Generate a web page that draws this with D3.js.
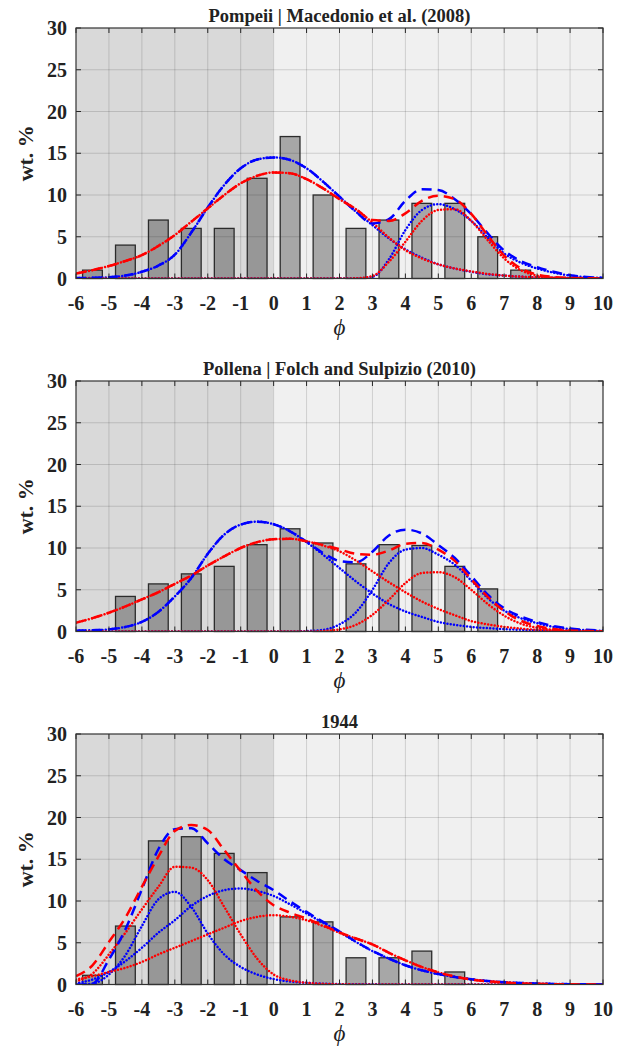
<!DOCTYPE html>
<html>
<head>
<meta charset="utf-8">
<script src="https://cdn.jsdelivr.net/npm/d3@7"></script>
<style>
  body { margin: 0; background: #fff; }
  text { font-family: "Liberation Serif", "Times New Roman", serif; fill: #222; }
</style>
</head>
<body>
<div id="viz"></div>
<script>
// grain size grid for the fitted curves (phi units)
const phi = [-6, -5.5, -5, -4.5, -4, -3.5, -3, -2.5, -2, -1.5, -1, -0.5, 0, 0.5, 1, 1.5, 2,
  2.5, 3, 3.5, 4, 4.5, 5, 5.5, 6, 6.5, 7, 7.5, 8, 8.5, 9, 9.5, 10];

const binCenters = [-5.5, -4.5, -3.5, -2.5, -1.5, -0.5, 0.5, 1.5, 2.5, 3.5, 4.5, 5.5, 6.5, 7.5];
const xTicks = [-6, -5, -4, -3, -2, -1, 0, 1, 2, 3, 4, 5, 6, 7, 8, 9, 10];
const yTicks = [0, 5, 10, 15, 20, 25, 30];

const titles = ['Pompeii | Macedonio et al. (2008)', 'Pollena | Folch and Sulpizio (2010)', '1944'];

// measured wt.% per bin
const pompeiiWt = [1, 4, 7, 6, 6, 12, 17, 10, 6, 7, 9, 9, 5, 1];
const pollenaWt = [null, 4.2, 5.7, 6.9, 7.8, 10.4, 12.3, 10.6, 8.1, 10.4, 10.3, 7.8, 5.1, null];
const wt1944 = [1.1, 7.0, 17.2, 17.7, 15.7, 13.4, 8.1, 7.5, 3.2, 3.2, 4.0, 1.5, null, null];

// Pompeii fits
const pompeiiBlue1 = [0.05, 0.08, 0.15, 0.35, 0.8, 1.55, 2.85, 5.5, 8.5, 11.2, 13.2, 14.25, 14.5, 14.2, 13.2, 11.6, 9.8,
  8.0, 6.4, 4.8, 3.5, 2.5, 1.7, 1.2, 0.8, 0.5, 0.35, 0.22, 0.14, 0.08, 0.05, 0.03, 0.02];
const pompeiiBlue2 = [0, 0, 0, 0, 0, 0, 0, 0, 0, 0, 0, 0, 0, 0, 0, 0, 0,
  0.02, 0.2, 2.3, 5.8, 8.2, 8.9, 8.3, 6.9, 4.9, 3.0, 1.9, 1.2, 0.7, 0.35, 0.15, 0.07];
const pompeiiBlueSum = [0.05, 0.08, 0.15, 0.35, 0.8, 1.55, 2.85, 5.5, 8.5, 11.2, 13.2, 14.25, 14.5, 14.2, 13.2, 11.6, 9.8,
  8.0, 6.6, 7.1, 9.3, 10.7, 10.6, 9.5, 7.7, 5.4, 3.35, 2.1, 1.35, 0.8, 0.4, 0.18, 0.09];
const pompeiiRed1 = [0.6, 1.0, 1.5, 2.1, 2.8, 3.9, 5.2, 6.8, 8.4, 10.0, 11.4, 12.3, 12.7, 12.6, 11.9, 10.8, 9.5,
  8.3, 6.7, 4.9, 3.4, 2.4, 1.7, 1.2, 0.85, 0.55, 0.35, 0.22, 0.13, 0.08, 0.04, 0.02, 0.01];
const pompeiiRed2 = [0, 0, 0, 0, 0, 0, 0, 0, 0, 0, 0, 0, 0, 0, 0, 0, 0,
  0.03, 0.3, 2.0, 4.4, 6.9, 8.2, 8.3, 6.9, 4.6, 2.4, 1.0, 0.35, 0.1, 0.03, 0.01, 0];
const pompeiiRedSum = [0.6, 1.0, 1.5, 2.1, 2.8, 3.9, 5.2, 6.8, 8.4, 10.0, 11.4, 12.3, 12.7, 12.6, 11.9, 10.8, 9.5,
  8.3, 7.0, 6.9, 7.8, 9.3, 9.9, 9.5, 7.75, 5.15, 2.75, 1.22, 0.48, 0.18, 0.07, 0.03, 0.01];

// Pollena fits
const pollenaBlue1 = [0.1, 0.15, 0.25, 0.55, 1.15, 2.35, 4.2, 6.4, 9.3, 11.6, 12.8, 13.15, 12.85, 12.0, 10.7, 9.2, 7.6,
  6.0, 4.55, 3.3, 2.4, 1.75, 1.15, 0.8, 0.55, 0.4, 0.28, 0.2, 0.14, 0.1, 0.07, 0.05, 0.03];
const pollenaBlue2 = [0, 0, 0, 0, 0, 0, 0, 0, 0, 0, 0, 0, 0, 0, 0.05, 0.2, 0.85,
  2.3, 5.0, 8.2, 9.8, 10.0, 9.2, 8.0, 6.1, 4.0, 2.5, 1.6, 1.0, 0.55, 0.28, 0.15, 0.08];
const pollenaBlueSum = [0.1, 0.15, 0.25, 0.55, 1.15, 2.35, 4.2, 6.4, 9.3, 11.6, 12.8, 13.15, 12.85, 12.0, 10.75, 9.4, 8.45,
  8.3, 9.55, 11.5, 12.2, 11.75, 10.35, 8.8, 6.65, 4.4, 2.78, 1.8, 1.14, 0.65, 0.35, 0.2, 0.11];
const pollenaRed1 = [1.05, 1.6, 2.25, 3.0, 3.85, 4.7, 5.7, 6.7, 7.9, 9.0, 10.0, 10.7, 11.05, 11.1, 10.8, 10.3, 9.6,
  8.5, 7.2, 5.9, 4.7, 3.6, 2.7, 1.95, 1.25, 0.85, 0.55, 0.35, 0.2, 0.1, 0.05, 0.03, 0.01];
const pollenaRed2 = [0, 0, 0, 0, 0, 0, 0, 0, 0, 0, 0, 0, 0, 0, 0, 0.05, 0.25,
  0.8, 2.0, 3.8, 5.8, 7.0, 7.1, 6.5, 5.0, 3.3, 1.9, 0.95, 0.45, 0.2, 0.08, 0.03, 0.01];
const pollenaRedSum = [1.05, 1.6, 2.25, 3.0, 3.85, 4.7, 5.7, 6.7, 7.9, 9.0, 10.0, 10.7, 11.05, 11.1, 10.8, 10.35, 9.85,
  9.3, 9.2, 9.7, 10.5, 10.6, 9.8, 8.45, 6.25, 4.15, 2.45, 1.3, 0.65, 0.3, 0.13, 0.06, 0.02];

// 1944 fits
const blue1944a = [0, 0.1, 1.2, 3.5, 7.0, 10.2, 11.1, 9.3, 6.1, 3.6, 2.1, 1.2, 0.65, 0.35, 0.2, 0.1, 0.05,
  0.03, 0.02, 0.01, 0, 0, 0, 0, 0, 0, 0, 0, 0, 0, 0, 0, 0];
const blue1944b = [0.15, 0.6, 1.5, 2.8, 4.4, 6.2, 7.7, 9.4, 10.6, 11.3, 11.5, 11.2, 10.6, 9.6, 8.5, 7.4, 6.3,
  5.1, 4.0, 3.1, 2.3, 1.7, 1.25, 0.9, 0.62, 0.42, 0.28, 0.18, 0.11, 0.07, 0.04, 0.02, 0.01];
const blue1944Sum = [0, 0.1, 3.0, 6.6, 11.4, 16.2, 18.6, 18.7, 16.9, 15.0, 13.7, 12.4, 11.3, 9.95, 8.7, 7.5, 6.35,
  5.13, 4.02, 3.11, 2.3, 1.7, 1.25, 0.9, 0.62, 0.42, 0.28, 0.18, 0.11, 0.07, 0.04, 0.02, 0.01];
const red1944a = [0.4, 1.3, 3.6, 6.2, 9.0, 11.7, 14.1, 14.0, 12.5, 9.3, 6.0, 3.1, 1.2, 0.5, 0.2, 0.08, 0.03,
  0.01, 0, 0, 0, 0, 0, 0, 0, 0, 0, 0, 0, 0, 0, 0, 0];
const red1944b = [0.6, 1.0, 1.5, 2.0, 2.7, 3.6, 4.4, 5.2, 6.0, 6.8, 7.6, 8.1, 8.3, 8.1, 7.7, 7.0, 6.2,
  5.5, 4.8, 3.8, 2.9, 2.1, 1.45, 0.95, 0.6, 0.38, 0.24, 0.14, 0.08, 0.04, 0.02, 0.01, 0];
const red1944Sum = [1.0, 2.3, 5.1, 8.0, 11.7, 15.3, 18.4, 19.1, 18.5, 16.1, 13.6, 11.2, 9.5, 8.6, 7.9, 7.08, 6.23,
  5.51, 4.8, 3.8, 2.9, 2.1, 1.45, 0.95, 0.6, 0.38, 0.24, 0.14, 0.08, 0.04, 0.02, 0.01, 0];

const panels = [
  { title: titles[0], top: 28, wt: pompeiiWt,
    blue: [pompeiiBlue1, pompeiiBlue2, pompeiiBlueSum], red: [pompeiiRed1, pompeiiRed2, pompeiiRedSum] },
  { title: titles[1], top: 381, wt: pollenaWt,
    blue: [pollenaBlue1, pollenaBlue2, pollenaBlueSum], red: [pollenaRed1, pollenaRed2, pollenaRedSum] },
  { title: titles[2], top: 734, wt: wt1944,
    blue: [blue1944a, blue1944b, blue1944Sum], red: [red1944a, red1944b, red1944Sum] }
];

const L = 76, R = 603, H = 250.5;
const svg = d3.select('#viz').append('svg')
  .attr('width', 625).attr('height', 1049)
  .style('display', 'block');

const x = d3.scaleLinear().domain([-6, 10]).range([L, R]);

panels.forEach((p, i) => drawPanel(p, i));

function drawPanel(p, i) {
  const y = d3.scaleLinear().domain([0, 30]).range([p.top + H, p.top]);
  const g = svg.append('g');
  const clipId = 'clip' + i;

  g.append('clipPath').attr('id', clipId)
    .append('rect').attr('x', L).attr('y', p.top).attr('width', R - L).attr('height', H);

  // coarse / fine halves of the axis
  g.append('rect').attr('x', x(-6)).attr('y', p.top)
    .attr('width', x(0) - x(-6)).attr('height', H).attr('fill', '#d9d9d9');
  g.append('rect').attr('x', x(0)).attr('y', p.top)
    .attr('width', x(10) - x(0)).attr('height', H).attr('fill', '#f0f0f0');

  // grid
  g.append('g').selectAll('line').data(xTicks.slice(1, -1)).join('line')
    .attr('x1', d => x(d)).attr('x2', d => x(d))
    .attr('y1', p.top).attr('y2', p.top + H)
    .attr('stroke', '#000').attr('stroke-opacity', 0.14).attr('stroke-width', 1);
  g.append('g').selectAll('line').data(yTicks.slice(1, -1)).join('line')
    .attr('x1', L).attr('x2', R)
    .attr('y1', d => y(d)).attr('y2', d => y(d))
    .attr('stroke', '#000').attr('stroke-opacity', 0.14).attr('stroke-width', 1);

  // bars
  const bars = binCenters.map((c, k) => ({ c, v: p.wt[k] })).filter(d => d.v != null);
  g.append('g').selectAll('rect').data(bars).join('rect')
    .attr('x', d => x(d.c - 0.3)).attr('y', d => y(d.v))
    .attr('width', x(0.3) - x(-0.3)).attr('height', d => y(0) - y(d.v))
    .attr('fill', '#000').attr('fill-opacity', 0.3)
    .attr('stroke', '#2b2b2b').attr('stroke-width', 1.3);

  // fitted curves: dotted components, dashed totals
  const line = d3.line().x((d, k) => x(phi[k])).y(d => y(d)).curve(d3.curveMonotoneX);
  const curves = g.append('g').attr('clip-path', `url(#${clipId})`).attr('fill', 'none');
  const dotted = (arr, col) => curves.append('path').attr('d', line(arr))
    .attr('stroke', col).attr('stroke-width', 2.5)
    .attr('stroke-linecap', 'round').attr('stroke-dasharray', '0.01 3.3');
  const dashed = (arr, col) => curves.append('path').attr('d', line(arr))
    .attr('stroke', col).attr('stroke-width', 2.5)
    .attr('stroke-dasharray', '10 6');

  dotted(p.blue[0], '#0000ff');
  dotted(p.blue[1], '#0000ff');
  dotted(p.red[0], '#ff0000');
  dotted(p.red[1], '#ff0000');
  dashed(p.blue[2], '#0000ff');
  dashed(p.red[2], '#ff0000');

  // ticks inside the box, all four sides
  const tk = g.append('g').attr('stroke', '#262626').attr('stroke-width', 1);
  xTicks.forEach(t => {
    tk.append('line').attr('x1', x(t)).attr('x2', x(t)).attr('y1', p.top + H).attr('y2', p.top + H - 5);
    tk.append('line').attr('x1', x(t)).attr('x2', x(t)).attr('y1', p.top).attr('y2', p.top + 5);
  });
  yTicks.forEach(t => {
    tk.append('line').attr('x1', L).attr('x2', L + 5).attr('y1', y(t)).attr('y2', y(t));
    tk.append('line').attr('x1', R).attr('x2', R - 5).attr('y1', y(t)).attr('y2', y(t));
  });

  g.append('rect').attr('x', L).attr('y', p.top).attr('width', R - L).attr('height', H)
    .attr('fill', 'none').attr('stroke', '#333').attr('stroke-width', 1.2);

  // tick labels
  g.append('g').selectAll('text').data(xTicks).join('text')
    .attr('x', d => x(d)).attr('y', p.top + H + 31)
    .attr('text-anchor', 'middle').attr('font-size', '20px').attr('font-weight', 'bold')
    .text(d => d);
  g.append('g').selectAll('text').data(yTicks).join('text')
    .attr('x', 67).attr('y', d => y(d) + 7)
    .attr('text-anchor', 'end').attr('font-size', '20px').attr('font-weight', 'bold')
    .text(d => d);

  g.append('text')
    .attr('x', (L + R) / 2).attr('y', p.top - 6)
    .attr('text-anchor', 'middle').attr('font-size', '18.5px').attr('font-weight', 'bold')
    .text(p.title);

  g.append('text')
    .attr('transform', `translate(33,${p.top + H / 2}) rotate(-90)`)
    .attr('text-anchor', 'middle').attr('font-size', '22px').attr('font-weight', 'bold')
    .text('wt. %');

  g.append('text')
    .attr('x', x(2)).attr('y', p.top + H + 56)
    .attr('text-anchor', 'middle').attr('font-size', '23px').attr('font-style', 'italic')
    .text('\u03D5');
}
</script>
</body>
</html>
